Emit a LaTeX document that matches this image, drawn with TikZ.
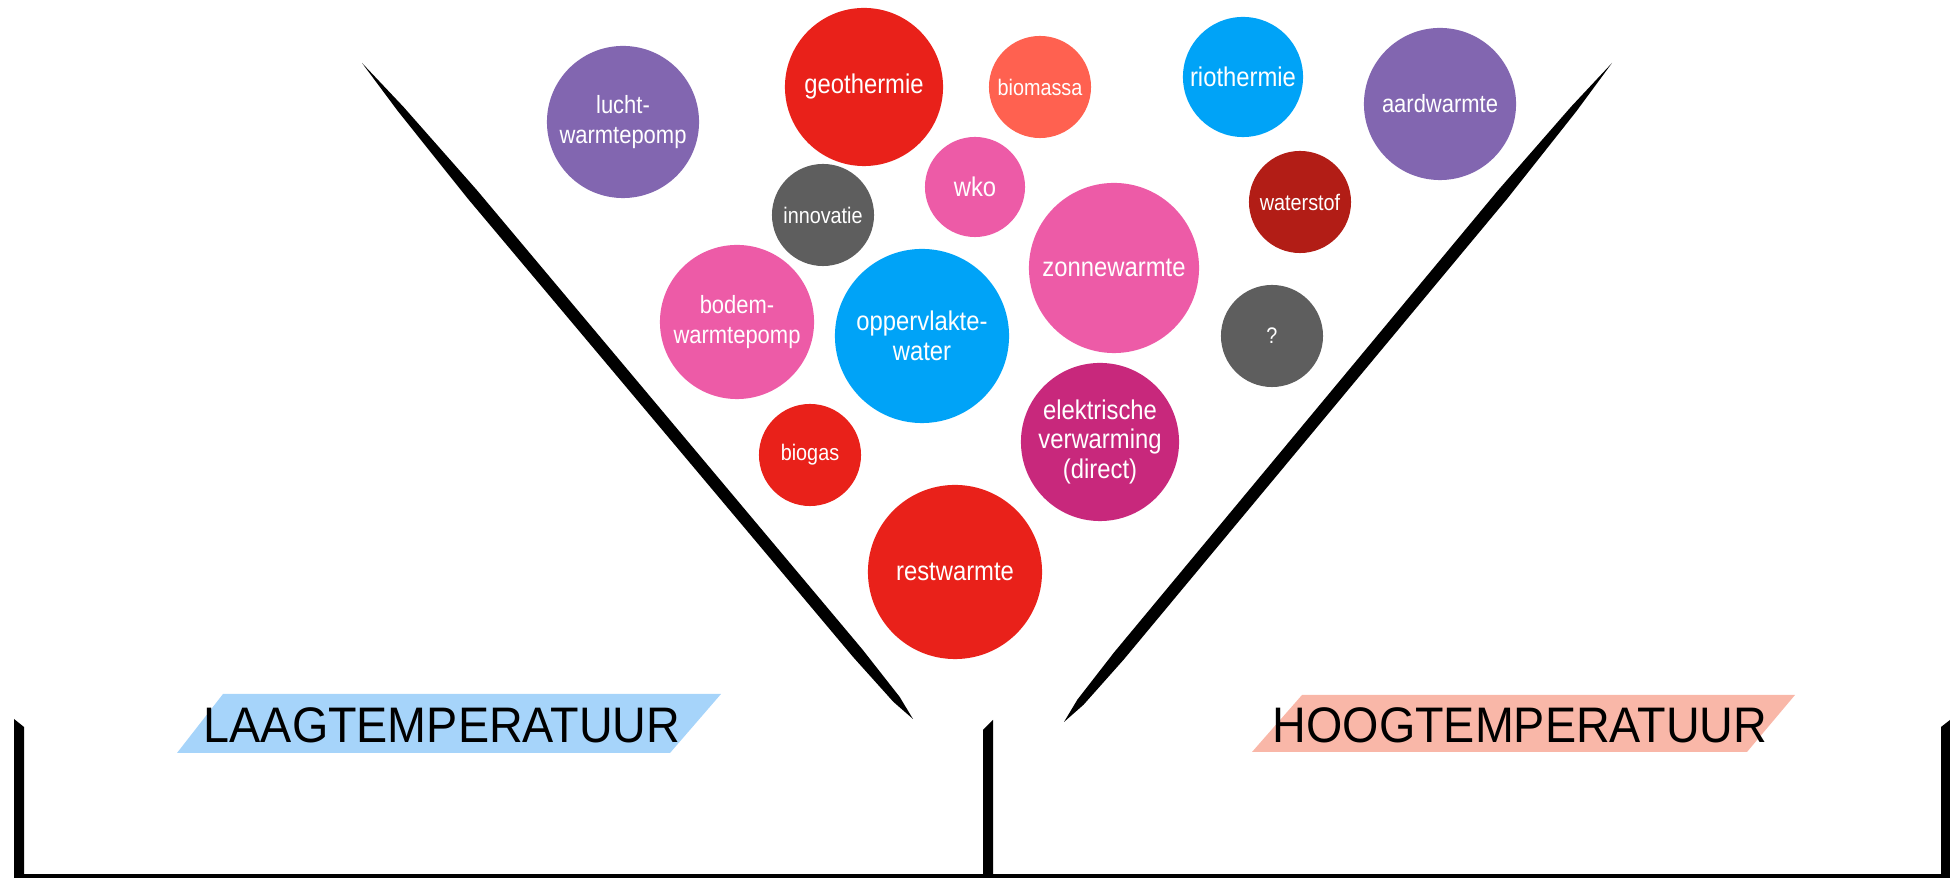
\documentclass[tikz,border=0pt]{standalone}
\usepackage{fontspec}
\setmainfont{Liberation Sans}
\newfontfamily\bubblefont[FakeStretch=0.88]{Liberation Sans}
\newfontfamily\labelfont[FakeStretch=0.935]{Liberation Sans}
\usetikzlibrary{calc}
\definecolor{paars}{RGB}{130,102,176}
\definecolor{rood}{RGB}{233,33,26}
\definecolor{koraal}{RGB}{255,97,80}
\definecolor{blauw}{RGB}{0,163,247}
\definecolor{roze}{RGB}{237,91,167}
\definecolor{grijs}{RGB}{94,94,94}
\definecolor{donkerrood}{RGB}{178,29,22}
\definecolor{magenta}{RGB}{200,40,124}
\definecolor{laagblauw}{RGB}{166,212,250}
\definecolor{hoogzalm}{RGB}{249,183,168}
\tikzset{x=0.01cm, y=-0.01cm,
  bubble/.style={circle, fill=#1, text=white, inner sep=0pt, align=center,
    font=\bubblefont\fontsize{7.7}{8.5}\selectfont},
  midtext/.style={font=\bubblefont\fontsize{7.1}{8.5}\selectfont},
  smalltext/.style={font=\bubblefont\fontsize{6.4}{8.5}\selectfont},
  rad/.style={minimum size=#1*0.02cm},
  label/.style={anchor=base, text=black, font=\labelfont\fontsize{14.2}{16}\selectfont}}
% tapered brush stroke between two named points
\newcommand\brushline[2]{%
  \fill (#1) -- ($(#1)!0.07!(#2)!0.035cm!90:(#2)$) -- ($(#1)!0.2!(#2)!0.062cm!90:(#2)$)
    -- ($(#1)!0.9!(#2)!0.06cm!90:(#2)$) -- ($(#1)!0.97!(#2)!0.04cm!90:(#2)$) -- (#2)
    -- ($(#1)!0.97!(#2)!0.04cm!-90:(#2)$) -- ($(#1)!0.9!(#2)!0.06cm!-90:(#2)$)
    -- ($(#1)!0.2!(#2)!0.062cm!-90:(#2)$) -- ($(#1)!0.07!(#2)!0.035cm!-90:(#2)$) -- cycle;}

\begin{document}
\begin{tikzpicture}
  \useasboundingbox (0,0) rectangle (1950,880);

  % funnel
  \coordinate (lt) at (362,63);
  \coordinate (lb) at (913,719);
  \coordinate (rt) at (1612,63);
  \coordinate (rb) at (1064,722);
  \brushline{lt}{lb}
  \brushline{rt}{rb}

  % brackets
  \fill (14,719) -- (24,727) -- (24,878) -- (14,878) -- cycle;
  \fill (983,730) -- (993,720) -- (993,878) -- (983,878) -- cycle;
  \fill (1941,727) -- (1950,720) -- (1950,878) -- (1941,878) -- cycle;
  \draw[line width=0.04cm] (14,876) -- (1950,876);

  % labels
  \fill[laagblauw] (223,694) -- (721,694) -- (670,753) -- (177,753) -- cycle;
  \fill[hoogzalm] (1302,695) -- (1795,695) -- (1747,752) -- (1252,752) -- cycle;
  \node[label] (laag) at (442,743) {LAAGTEMPERATUUR};
  \node[label] (hoog) at (1520,743) {HOOGTEMPERATUUR};

  % bubbles
  \node[bubble=paars, rad=76, midtext] (lucht) at (623,122) {lucht-\\warmtepomp};
  \node[bubble=rood, rad=79] (geo) at (864,87) {geothermie};
  \node[bubble=koraal, rad=51, smalltext] (biomassa) at (1040,87) {biomassa};
  \node[bubble=blauw, rad=60] (rio) at (1243,77) {riothermie};
  \node[bubble=paars, rad=76, midtext] (aard) at (1440,104) {aardwarmte};
  \node[bubble=grijs, rad=51, smalltext] (innovatie) at (823,215) {innovatie};
  \node[bubble=roze, rad=50] (wko) at (975,187) {wko};
  \node[bubble=donkerrood, rad=51, smalltext] (waterstof) at (1300,202) {waterstof};
  \node[bubble=roze, rad=85] (zonne) at (1114,268) {zonnewarmte};
  \node[bubble=roze, rad=77, midtext] (bodem) at (737,322) {bodem-\\warmtepomp};
  \node[bubble=blauw, rad=87] (opper) at (922,336) {oppervlakte-\\water};
  \node[bubble=grijs, rad=51, smalltext] (vraag) at (1272,336) {?};
  \node[bubble=magenta, rad=79] (elek) at (1100,442) {elektrische\\verwarming\\(direct)};
  \node[bubble=rood, rad=51, smalltext] (biogas) at (810,455) {biogas};
  \node[bubble=rood, rad=87] (rest) at (955,572) {restwarmte};
\end{tikzpicture}
\end{document}
